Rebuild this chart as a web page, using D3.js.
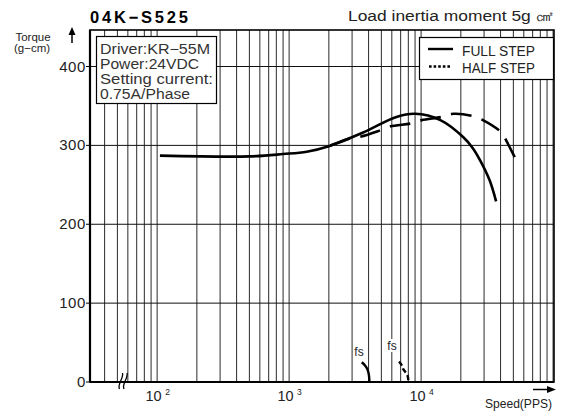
<!DOCTYPE html>
<html>
<head>
<meta charset="utf-8">
<script src="https://cdn.jsdelivr.net/npm/d3@7"></script>
<style>
	body { margin: 0; background: #fff; }
	svg { display: block; font-family: "Liberation Sans", Arial, sans-serif; }
</style>
</head>
<body>
<div id="chart-area"></div>
<script>

// values (speed in PPS, torque in g-cm)
let fullSpeed  = [105, 500, 900, 1360, 2000, 3600, 6500, 9000, 14000, 21000, 24500, 28000, 33000, 37000];
let fullTorque = [287, 286, 289, 292, 299, 316, 336, 340, 332, 310, 297, 281, 256, 229];

let halfSpeed  = [2000, 2900, 3450, 4700, 5800, 8500, 10100, 14300, 17500, 24700, 29400, 40800, 44500, 52300];
let halfTorque = [299, 309, 311, 318, 324, 328, 332, 336, 340, 337, 332, 316, 305, 282];

// pull-in (fs) ends
let fullFsSpeed  = [3550, 3760, 3920, 4020, 4060];
let fullFsTorque = [25, 21, 16, 9, 0];
let halfFsSpeed  = [6810, 7140, 7340, 7870, 8000];
let halfFsTorque = [26, 21, 16, 9, 2];

let yTicks = [0, 100, 200, 300, 400];
let xDecades = [2, 3, 4];
let infoLines = ["Driver:KR\u221255M", "Power:24VDC", "Setting current:", "0.75A/Phase"];
let infoWidths = [110, 99, 113, 90];

let svg = d3.select("#chart-area").append("svg")
	.attr("width", 564)
	.attr("height", 412);

let x = d3.scaleLog().domain([31, 101600]).range([90, 554]);
let y = d3.scaleLinear().domain([0, 400]).range([382, 66.5]);
let pTop = 30, pBottom = 382, pLeft = 90, pRight = 554;

// vertical log grid
let gridX = [];
for (let d = 10; d <= 1e5; d *= 10) {
	for (let m = 1; m < 10; m++) {
		let v = m * d;
		if (v >= 35 && v <= 1e5) gridX.push(v);
	}
}

svg.selectAll(".vgrid")
	.data(gridX)
	.enter().append("line")
	.attr("class", "vgrid")
	.attr("x1", function(d) { return x(d); })
	.attr("x2", function(d) { return x(d); })
	.attr("y1", pTop)
	.attr("y2", pBottom)
	.attr("stroke", "#2a2a2a")
	.attr("stroke-width", 1);

svg.selectAll(".hgrid")
	.data(yTicks.slice(1))
	.enter().append("line")
	.attr("class", "hgrid")
	.attr("x1", pLeft)
	.attr("x2", pRight)
	.attr("y1", function(d) { return y(d); })
	.attr("y2", function(d) { return y(d); })
	.attr("stroke", "#111")
	.attr("stroke-width", 1);

// frame
svg.append("rect")
	.attr("x", pLeft).attr("y", pTop)
	.attr("width", pRight - pLeft).attr("height", pBottom - pTop)
	.attr("fill", "none")
	.attr("stroke", "#000")
	.attr("stroke-width", 1.6);

svg.append("line")
	.attr("x1", pLeft).attr("x2", pRight).attr("y1", pBottom).attr("y2", pBottom)
	.attr("stroke", "#000").attr("stroke-width", 2.2);
svg.append("line")
	.attr("x1", pLeft).attr("x2", pLeft).attr("y1", pTop).attr("y2", pBottom)
	.attr("stroke", "#000").attr("stroke-width", 2.2);

// y ticks + labels
svg.selectAll(".ytick")
	.data(yTicks)
	.enter().append("line")
	.attr("x1", pLeft - 4).attr("x2", pLeft)
	.attr("y1", function(d) { return y(d); })
	.attr("y2", function(d) { return y(d); })
	.attr("stroke", "#000");

svg.selectAll(".ylab")
	.data(yTicks)
	.enter().append("text")
	.attr("x", 86)
	.attr("y", function(d) { return y(d) + 5; })
	.attr("text-anchor", "end")
	.attr("font-size", 15)
	.attr("letter-spacing", 0.6)
	.attr("fill", "#222")
	.text(function(d) { return d; });

// x decade labels 10^n
let xl = svg.selectAll(".xlab")
	.data(xDecades)
	.enter().append("g")
	.attr("transform", function(d) { return "translate(" + x(Math.pow(10, d)) + ",0)"; });
xl.append("text")
	.attr("x", 4.5).attr("y", 401)
	.attr("text-anchor", "end")
	.attr("font-size", 14.5)
	.attr("fill", "#222")
	.text("10");
xl.append("text")
	.attr("x", 8).attr("y", 395)
	.attr("font-size", 8.5)
	.attr("fill", "#222")
	.text(function(d) { return d; });

// axis break
let breakX = [121, 125.5];
breakX.forEach(function(bx) {
	svg.append("path")
		.attr("d", "M" + (bx - 1.5) + ",389 C" + (bx - 4) + ",384 " + (bx + 3) + ",378 " + (bx + 1.5) + ",373")
		.attr("fill", "none")
		.attr("stroke", "#000")
		.attr("stroke-width", 1.3);
});

// curves
let line = d3.line()
	.x(function(d) { return x(d[0]); })
	.y(function(d) { return y(d[1]); })
	.curve(d3.curveCatmullRom.alpha(0.5));

let fullData = d3.zip(fullSpeed, fullTorque);
let halfData = d3.zip(halfSpeed, halfTorque);

svg.append("path")
	.attr("d", line(halfData))
	.attr("fill", "none")
	.attr("stroke", "#000")
	.attr("stroke-width", 2.6)
	.attr("stroke-dasharray", "20.5,10.8")
	.attr("stroke-dashoffset", 29.6);

svg.append("path")
	.attr("d", line(fullData))
	.attr("fill", "none")
	.attr("stroke", "#000")
	.attr("stroke-width", 2.6);

svg.append("path")
	.attr("d", line(d3.zip(fullFsSpeed, fullFsTorque)))
	.attr("fill", "none")
	.attr("stroke", "#000")
	.attr("stroke-width", 2.4);

svg.append("path")
	.attr("d", line(d3.zip(halfFsSpeed, halfFsTorque)))
	.attr("fill", "none")
	.attr("stroke", "#000")
	.attr("stroke-width", 2.4)
	.attr("stroke-dasharray", "5,3");

// fs labels
let fsPos = [[359, 356], [392, 350]];
fsPos.forEach(function(p) {
	svg.append("rect")
		.attr("x", p[0] - 6).attr("y", p[1] - 11)
		.attr("width", 12).attr("height", 13)
		.attr("fill", "#fff");
	svg.append("text")
		.attr("x", p[0]).attr("y", p[1])
		.attr("text-anchor", "middle")
		.attr("font-size", 12)
		.attr("fill", "#222")
		.text("fs");
});

// info box
svg.append("rect")
	.attr("x", 96.5).attr("y", 36.5)
	.attr("width", 120).attr("height", 67)
	.attr("fill", "#fff")
	.attr("stroke", "#000")
	.attr("stroke-width", 1.2);

svg.selectAll(".info")
	.data(infoLines)
	.enter().append("text")
	.attr("x", 100)
	.attr("y", function(d, i) { return 53.5 + i * 15.3; })
	.attr("font-size", 14)
	.attr("fill", "#333")
	.attr("textLength", function(d, i) { return infoWidths[i]; })
	.attr("lengthAdjust", "spacingAndGlyphs")
	.text(function(d) { return d; });

// legend
svg.append("rect")
	.attr("x", 419.5).attr("y", 37.5)
	.attr("width", 134).attr("height", 42)
	.attr("fill", "#fff")
	.attr("stroke", "#000")
	.attr("stroke-width", 1.2);

svg.append("line")
	.attr("x1", 428).attr("x2", 453).attr("y1", 49).attr("y2", 49)
	.attr("stroke", "#000").attr("stroke-width", 2.4);
svg.append("line")
	.attr("x1", 429).attr("x2", 451).attr("y1", 66.5).attr("y2", 66.5)
	.attr("stroke", "#000").attr("stroke-width", 2.4)
	.attr("stroke-dasharray", "2.6,2");

svg.append("text")
	.attr("x", 462).attr("y", 56)
	.attr("font-size", 14).attr("fill", "#222")
	.attr("textLength", 73).attr("lengthAdjust", "spacingAndGlyphs")
	.text("FULL STEP");
svg.append("text")
	.attr("x", 462).attr("y", 72.5)
	.attr("font-size", 14).attr("fill", "#222")
	.attr("textLength", 73).attr("lengthAdjust", "spacingAndGlyphs")
	.text("HALF STEP");

// titles
svg.append("text")
	.attr("x", 90).attr("y", 23)
	.attr("font-size", 16.5)
	.attr("font-weight", "bold")
	.attr("textLength", 98).attr("lengthAdjust", "spacing")
	.text("04K\u2212S525");

svg.append("text")
	.attr("x", 348).attr("y", 21)
	.attr("font-size", 14)
	.attr("fill", "#222")
	.attr("textLength", 205).attr("lengthAdjust", "spacingAndGlyphs")
	.text("Load inertia moment 5g \u33A0");

svg.append("text")
	.attr("x", 33).attr("y", 41)
	.attr("text-anchor", "middle")
	.attr("font-size", 11.5).attr("fill", "#222")
	.text("Torque");
svg.append("text")
	.attr("x", 32).attr("y", 52)
	.attr("text-anchor", "middle")
	.attr("font-size", 11.5).attr("fill", "#222")
	.text("(g\u2212cm)");

svg.append("text")
	.attr("x", 552).attr("y", 408)
	.attr("text-anchor", "end")
	.attr("font-size", 12).attr("fill", "#222")
	.attr("textLength", 67).attr("lengthAdjust", "spacingAndGlyphs")
	.text("Speed(PPS)");

// axis arrows
svg.append("line")
	.attr("x1", 72).attr("x2", 72).attr("y1", 43).attr("y2", 31)
	.attr("stroke", "#000").attr("stroke-width", 1.5);
svg.append("path")
	.attr("d", "M72,27 L68.5,35 L75.5,35 Z")
	.attr("fill", "#000");

svg.append("line")
	.attr("x1", 533).attr("x2", 550).attr("y1", 389.5).attr("y2", 389.5)
	.attr("stroke", "#000").attr("stroke-width", 1.5);
svg.append("path")
	.attr("d", "M556,389.5 L547,386 L547,393 Z")
	.attr("fill", "#000");

</script>
</body>
</html>
